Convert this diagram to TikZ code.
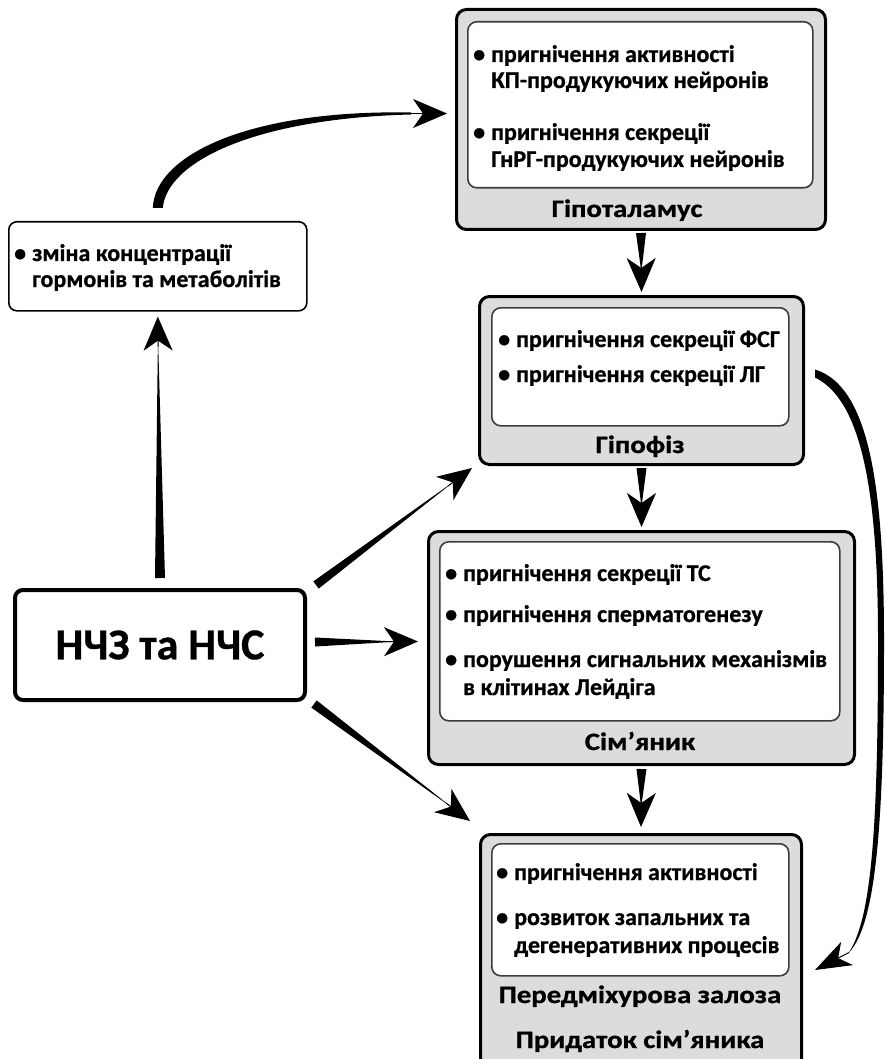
\documentclass[tikz,border=0pt]{standalone}
\usepackage{graphicx}
\usepackage{fontspec}
\setmainfont{Carlito}[BoldFeatures={FakeBold=0.8}]
\usetikzlibrary{calc,arrows.meta}

\definecolor{boxgray}{RGB}{220,220,220}
\definecolor{edgegray}{RGB}{60,60,60}

% bullet followed by a fixed gap
\newcommand\bul{\makebox[18pt][l]{•}}
% box titles are set slightly wide
\newcommand\wide[1]{\scalebox{1.15}[1]{#1}}

% tapered straight arrow: start, tip, half width at the start
\newcommand\tarrow[3]{%
  \fill ($(#1)!#3!90:(#2)$) -- ($(#2)!20pt!(#1)$) -- ($(#1)!#3!-90:(#2)$) -- cycle;
  \draw[headline] ($(#2)!30pt!(#1)$) -- (#2);
}

\begin{document}
\begin{tikzpicture}[x=1pt,y=-1pt,
  outerbox/.style={draw=black, line width=3pt, fill=boxgray, rounded corners=10pt,
    anchor=north west, inner sep=0pt},
  innerbox/.style={draw=edgegray, line width=1.6pt, fill=white, rounded corners=9pt,
    anchor=north west, inner sep=0pt},
  plainbox/.style={draw=black, fill=white, rounded corners=8pt, anchor=north west, inner sep=0pt},
  txt/.style={anchor=base west, inner sep=0pt, font=\bfseries\fontsize{24}{28}\selectfont},
  ttl/.style={anchor=base, inner sep=0pt, font=\bfseries\fontsize{25}{30}\selectfont},
  headline/.style={line width=1pt, -{Stealth[length=34pt,width=29pt,inset=10pt]}},
]
\useasboundingbox (0,0) rectangle (884,1059);
\clip (0,0) rectangle (884,1059);

% Hypothalamus
\node[outerbox, minimum width=369pt, minimum height=220pt] (hyp) at (455,8) {};
\node[innerbox, minimum width=345pt, minimum height=166pt] (hypin) at (467,21) {};
\node[txt] (h1) at (473,62) {\bul пригнічення активності};
\node[txt] (h2) at (491,88) {КП-продукуючих нейронів};
\node[txt] (h3) at (473,140) {\bul пригнічення секреції};
\node[txt] (h4) at (491,167) {ГнРГ-продукуючих нейронів};
\node[ttl] (hyptitle) at (627,217) {\wide{Гіпоталамус}};

% Change of hormones and metabolites
\node[plainbox, line width=1.6pt, minimum width=298pt, minimum height=89pt] (chg) at (8,221) {};
\node[txt] (c1) at (14,261) {\bul зміна концентрації};
\node[txt] (c2) at (32,287) {гормонів та метаболітів};

% Pituitary
\node[outerbox, minimum width=324pt, minimum height=168pt] (pit) at (478,295) {};
\node[innerbox, minimum width=297pt, minimum height=118pt] (pitin) at (491,307) {};
\node[txt] (p1) at (498,347) {\bul пригнічення секреції ФСГ};
\node[txt] (p2) at (498,382) {\bul пригнічення секреції ЛГ};
\node[ttl] (pittitle) at (640,453) {\wide{Гіпофіз}};

% Source box
\node[plainbox, line width=4pt, minimum width=290pt, minimum height=110pt] (ncz) at (13,588) {};
\node[inner sep=0pt, font=\bfseries\fontsize{44}{50}\selectfont] (ncztext) at (ncz.center) {НЧЗ та НЧС};

% Testis
\node[outerbox, minimum width=426pt, minimum height=233pt] (tes) at (427,530) {};
\node[innerbox, minimum width=400pt, minimum height=179pt] (tesin) at (439,541) {};
\node[txt] (t1) at (445,581) {\bul пригнічення секреції ТС};
\node[txt] (t2) at (445,622) {\bul пригнічення сперматогенезу};
\node[txt] (t3) at (445,667) {\bul порушення сигнальних механізмів};
\node[txt] (t4) at (463,695) {в клітинах Лейдіга};
\node[ttl] (testitle) at (640,750) {\wide{Сім’яник}};

% Prostate and epididymis
\node[outerbox, minimum width=321pt, minimum height=240pt] (pro) at (479,833) {};
\node[innerbox, minimum width=297pt, minimum height=132pt] (proin) at (491,843) {};
\node[txt] (r1) at (496,880) {\bul пригнічення активності};
\node[txt] (r2) at (496,925) {\bul розвиток запальних та};
\node[txt] (r3) at (514,953) {дегенеративних процесів};
\node[ttl] (protitle1) at (640,1003) {\wide{Передміхурова залоза}};
\node[ttl] (protitle2) at (640,1048) {\wide{Придаток сім’яника}};

% straight connectors
\coordinate (a1s) at ($(hyp.south)+(0,2)$);
\coordinate (a1t) at ($(pit.north)+(0,-3)$);
\coordinate (a2s) at ($(pit.south)+(0,2)$);
\coordinate (a2t) at ($(tes.north)+(0,-3)$);
\coordinate (a3s) at ($(tes.south)+(0,3)$);
\coordinate (a3t) at ($(pro.north)+(0,-6)$);
\coordinate (a4s) at ($(ncz.north)+(0,-10)$);
\coordinate (a4t) at ($(chg.south)+(0,5)$);
\coordinate (a5s) at ($(ncz.north east)+(9,-3)$);
\coordinate (a5t) at ($(pit.south west)+(-6,2)$);
\coordinate (a6s) at ($(ncz.east)+(8,-3)$);
\coordinate (a6t) at ($(tes.west)+(-9,-6.5)$);
\coordinate (a7s) at ($(ncz.south east)+(7,2)$);
\coordinate (a7t) at ($(pro.north west)+(-9,-12)$);

\tarrow{a1s}{a1t}{5pt}
\tarrow{a2s}{a2t}{5pt}
\tarrow{a3s}{a3t}{5pt}
\tarrow{a4s}{a4t}{5pt}
\tarrow{a5s}{a5t}{4.5pt}
\tarrow{a6s}{a6t}{4.5pt}
\tarrow{a7s}{a7t}{4.5pt}

% curved connector to the hypothalamus
\coordinate (ts) at ($(chg.north)+(0,-13)$);
\coordinate (tt) at ($(hyp.west)+(-8,-6)$);
\coordinate (tb) at ($(tt)+(-36,0)$);
\fill ($(ts)+(-5,0)$) .. controls +(2,-53) and +(-162,-3) .. ($(tb)+(0,-1)$)
  -- ($(tb)+(0,1)$) .. controls +(-157,4) and +(4,-46) .. ($(ts)+(5,0)$) -- cycle;
\draw[headline] (tb) -- (tt);

% curved connector from the pituitary to the prostate
\coordinate (rs) at ($(pit.east)+(10,-7)$);
\coordinate (rm) at (881,640);
\coordinate (rt) at ($(pro.north east)+(12,137)$);
\coordinate (rb) at ($(rt)+(34,-17.5)$);
\fill ($(rs)+(0,-4)$) .. controls +(52,16) and +(0,-162) .. ($(rm)+(3,0)$)
  .. controls +(0,180) and +(27,-30) .. ($(rb)+(0.5,-0.5)$)
  -- ($(rb)+(-0.5,0.5)$) .. controls +(24,-35) and +(0,180) .. ($(rm)+(-3,0)$)
  .. controls +(0,-155) and +(45,22) .. ($(rs)+(0,4)$) -- cycle;
\draw[headline, -{Stealth[length=36pt,width=26pt,inset=10pt]}] (rb) -- (rt);
\end{tikzpicture}
\end{document}
